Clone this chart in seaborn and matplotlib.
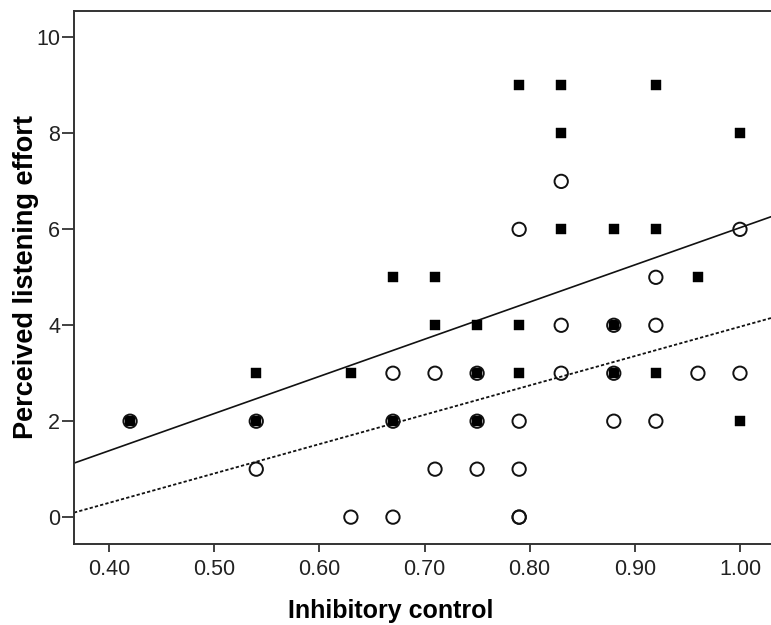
import matplotlib
matplotlib.use("Agg")
import matplotlib.pyplot as plt
import seaborn as sns
import pandas as pd

# filled squares (solid fit line)
filled_x = [0.42, 0.54, 0.54, 0.63, 0.67, 0.67, 0.71, 0.71, 0.75, 0.75, 0.75,
            0.79, 0.79, 0.79, 0.83, 0.83, 0.83, 0.88, 0.88, 0.88, 0.92, 0.92,
            0.92, 0.96, 1.00, 1.00]
filled_y = [2, 3, 2, 3, 5, 2, 5, 4, 4, 3, 2,
            9, 4, 3, 9, 8, 6, 6, 4, 3, 9, 6,
            3, 5, 8, 2]

# open circles (dotted fit line)
open_x = [0.42, 0.54, 0.54, 0.63, 0.67, 0.67, 0.67, 0.71, 0.71, 0.75, 0.75,
          0.75, 0.79, 0.79, 0.79, 0.79, 0.79, 0.83, 0.83, 0.83, 0.88, 0.88,
          0.88, 0.92, 0.92, 0.92, 0.96, 1.00, 1.00]
open_y = [2, 2, 1, 0, 3, 2, 0, 3, 1, 3, 2,
          1, 6, 2, 1, 0, 0, 7, 4, 3, 4, 3,
          2, 5, 4, 2, 3, 6, 3]

# fit lines (intercept, slope)
filled_fit = (-1.716, 7.75)
open_fit = (-2.150, 6.12)

x_ticks = [0.40, 0.50, 0.60, 0.70, 0.80, 0.90, 1.00]
y_ticks = [0, 2, 4, 6, 8, 10]

sns.set_style("white")
plt.rcParams['font.family'] = ['Liberation Sans', 'DejaVu Sans']

df_filled = pd.DataFrame({'x': filled_x, 'y': filled_y})
df_open = pd.DataFrame({'x': open_x, 'y': open_y})

fig = plt.figure(figsize=(7.71, 6.25), dpi=100)
ax = fig.add_axes([0.096, 0.130, 0.904, 0.853])

sns.scatterplot(data=df_filled, x='x', y='y', marker='s', s=46, color='black',
                edgecolor='black', linewidth=0.3, ax=ax, zorder=3)
sns.scatterplot(data=df_open, x='x', y='y', marker='o', s=92, facecolors='none',
                edgecolor='#111111', linewidth=1.4, ax=ax, zorder=4)

ax.axline((0, filled_fit[0]), slope=filled_fit[1], color='#111111', lw=1.2, zorder=2)
ax.axline((0, open_fit[0]), slope=open_fit[1], color='#111111', lw=1.3,
          linestyle=(0, (1.8, 1.2)), zorder=2)

ax.set_xlim(0.3667, 1.0295)
ax.set_ylim(-0.555, 10.56)
ax.set_xticks(x_ticks)
ax.set_xticklabels([f"{t:.2f}" for t in x_ticks])
ax.set_yticks(y_ticks)

for side in ['left', 'bottom', 'top']:
    ax.spines[side].set_color('#333333')
    ax.spines[side].set_linewidth(1.4)
ax.spines['right'].set_visible(False)

ax.tick_params(axis='x', direction='out', length=6, width=1.3, color='#333333',
               labelsize=15.5, labelcolor='#222222', pad=5, bottom=True)
ax.tick_params(axis='y', direction='out', length=9, width=1.3, color='#333333',
               labelsize=15.5, labelcolor='#222222', pad=1, left=True)

ax.set_xlabel('Inhibitory control', fontsize=18, fontweight='bold', color='black')
ax.set_ylabel('Perceived listening effort', fontsize=19.5, fontweight='bold', color='black')
ax.xaxis.set_label_coords(0.455, -0.104)
ax.yaxis.set_label_coords(-0.05, 0.5)

fig.savefig('out.png', dpi=100)
